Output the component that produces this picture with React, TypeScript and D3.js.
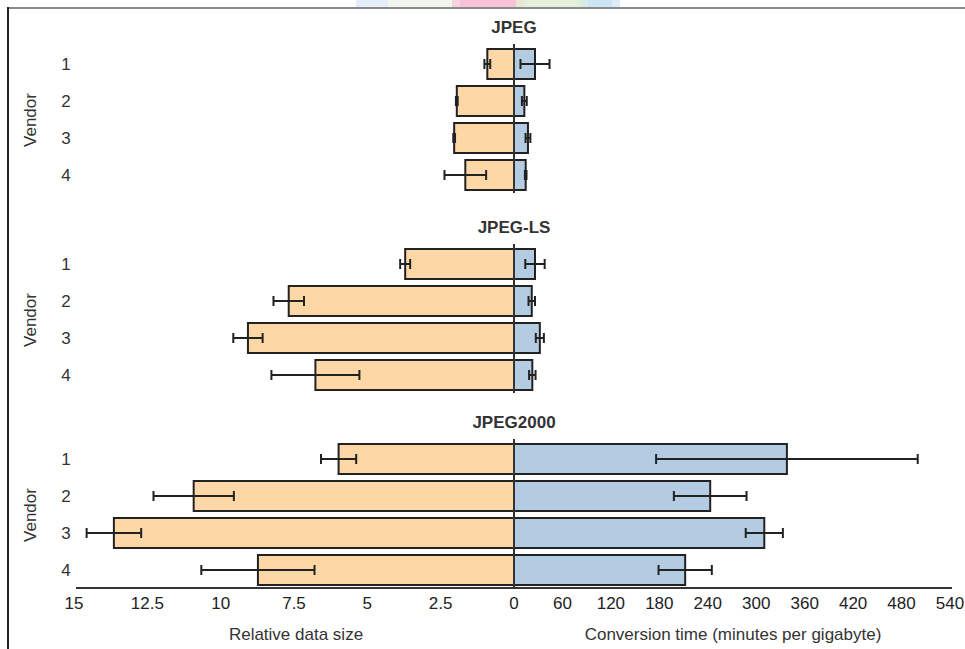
import React from "react";
import * as d3 from "d3";

// chart data
const formats = ["JPEG", "JPEG-LS", "JPEG2000"];
const vendors = ["1", "2", "3", "4"];

// relative data size (left side), mean and error half-width
const sizeMean = [
  [0.91, 1.95, 2.04, 1.66],
  [3.71, 7.68, 9.07, 6.77],
  [5.98, 10.92, 13.64, 8.73],
];
const sizeErr = [
  [0.1, 0.03, 0.03, 0.71],
  [0.17, 0.52, 0.5, 1.5],
  [0.6, 1.37, 0.93, 1.93],
];

// conversion time in minutes per gigabyte (right side)
const timeMean = [
  [26, 12.8, 17.3, 14.5],
  [26, 22, 32, 22.7],
  [338, 243, 310, 212],
];
const timeErr = [
  [18, 3, 3, 1],
  [12, 4, 5, 4],
  [162, 45, 23, 33],
];

const sizeTicks = [15, 12.5, 10, 7.5, 5, 2.5, 0];
const timeTicks = [60, 120, 180, 240, 300, 360, 420, 480, 540];

// the little coloured strip above the frame in the screenshot
const strip = [
  [356, 388, "#e4edf8"], [388, 452, "#f0f6ec"], [452, 460, "#f4d4e0"],
  [460, 516, "#f8c2d6"], [516, 524, "#ece6da"], [524, 580, "#e4f0da"],
  [580, 588, "#d8ece6"], [588, 612, "#cce4f4"], [612, 620, "#dcecf8"],
] as const;

const W = 965;
const H = 649;
const font = "'Liberation Sans', Arial, Helvetica, sans-serif";
const ink = "#222";
const orange = "#fdd8a6";
const blue = "#b3cce2";

export default function App() {
  const zero = 514;
  const xSize = d3.scaleLinear().domain([0, 15]).range([zero, 74]);
  const xTime = d3.scaleLinear().domain([0, 540]).range([zero, 950]);

  // panel offsets and rows inside a panel
  const panelY = [64, 264, 459];
  const row = d3.scalePoint().domain(vendors).range([0, 111]);
  const barH = 30;
  const cap = 5;
  const axisY = 588;

  const errBar = (x0: number, x1: number, y: number, key: string) => (
    <g key={key} stroke={ink} strokeWidth={2}>
      <line x1={x0} x2={x1} y1={y} y2={y} />
      <line x1={x0} x2={x0} y1={y - cap} y2={y + cap} />
      <line x1={x1} x2={x1} y1={y - cap} y2={y + cap} />
    </g>
  );

  return (
    <svg width={W} height={H} style={{ position: "absolute", left: 0, top: 0, background: "#fff" }}
      fontFamily={font}>
      {strip.map(([a, b, c], i) => (
        <rect key={i} x={a} y={0} width={b - a} height={7} fill={c} />
      ))}
      <line x1={8} x2={W} y1={8} y2={8} stroke="#8a8a8a" strokeWidth={2} />
      <line x1={8} x2={8} y1={7} y2={H} stroke={ink} strokeWidth={2} />

      {formats.map((f, p) => {
        const top = panelY[p];
        const yc = (v: string) => top + (row(v) as number);
        return (
          <g key={f}>
            <text x={zero} y={top - 31} textAnchor="middle" fontWeight="bold" fontSize={17} fill="#333">{f}</text>
            <text transform={`translate(36,${top + 56}) rotate(-90)`} textAnchor="middle" fontSize={17} fill="#333">Vendor</text>
            {vendors.map((v) => (
              <text key={v} x={66} y={yc(v) + 6} textAnchor="middle" fontSize={17} fill="#333">{v}</text>
            ))}
            {vendors.map((v, i) => {
              const y = yc(v);
              const s = sizeMean[p][i];
              const t = timeMean[p][i];
              return (
                <g key={"b" + v}>
                  <rect x={xSize(s)} y={y - barH / 2} width={zero - xSize(s)} height={barH}
                    fill={orange} stroke={ink} strokeWidth={2} />
                  <rect x={zero} y={y - barH / 2} width={xTime(t) - zero} height={barH}
                    fill={blue} stroke={ink} strokeWidth={2} />
                </g>
              );
            })}
            {vendors.map((v, i) => {
              const y = yc(v);
              const s = sizeMean[p][i], se = sizeErr[p][i];
              const t = timeMean[p][i], te = timeErr[p][i];
              return (
                <g key={"e" + v}>
                  {errBar(xSize(s + se), xSize(s - se), y, "s")}
                  {errBar(xTime(t - te), xTime(t + te), y, "t")}
                </g>
              );
            })}
            <line x1={zero} x2={zero} y1={yc("1") - 20} y2={yc("4") + 18} stroke="#333" strokeWidth={2} />
          </g>
        );
      })}

      <line x1={76} x2={952} y1={axisY} y2={axisY} stroke="#333" strokeWidth={2} />
      {sizeTicks.map((t) => (
        <text key={"s" + t} x={xSize(t)} y={axisY + 21} textAnchor="middle" fontSize={17} fill="#222">{t}</text>
      ))}
      {timeTicks.map((t) => (
        <text key={"t" + t} x={xTime(t)} y={axisY + 21} textAnchor="middle" fontSize={17} fill="#222">{t}</text>
      ))}
      <text x={296} y={640} textAnchor="middle" fontSize={17} fill="#333">Relative data size</text>
      <text x={733} y={640} textAnchor="middle" fontSize={17} fill="#333">Conversion time (minutes per gigabyte)</text>
    </svg>
  );
}
